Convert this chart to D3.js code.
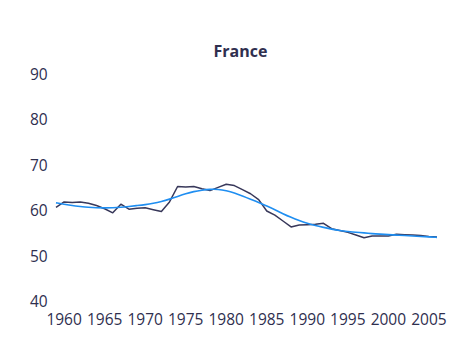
<!DOCTYPE html>
<html><head><meta charset="utf-8">
<script src="https://cdn.jsdelivr.net/npm/d3@7"></script>
<style>body{margin:0;background:#fff}svg{display:block}text{font-family:"Open Sans","Noto Sans",sans-serif}</style>
</head><body><div id="chart"></div>
<script>
const title = "France";
const years = d3.range(1959, 2007);
const actual = [60.4,61.6,61.5,61.6,61.3,60.8,60.1,59.2,61.1,60.0,60.2,60.3,59.9,59.5,61.6,65.0,64.9,65.0,64.5,64.1,64.8,65.5,65.2,64.3,63.4,62.1,59.6,58.7,57.4,56.1,56.5,56.6,56.7,56.9,55.7,55.3,54.9,54.3,53.7,54.1,54.1,54.1,54.5,54.4,54.3,54.2,54.0,53.9];
const trend = [61.4,61.1,60.8,60.6,60.4,60.3,60.3,60.3,60.4,60.6,60.8,61.0,61.3,61.7,62.2,62.8,63.4,63.9,64.2,64.4,64.4,64.1,63.6,62.9,62.2,61.5,60.7,59.9,59.0,58.2,57.5,56.9,56.4,56.0,55.6,55.3,55.1,54.9,54.8,54.6,54.5,54.4,54.3,54.2,54.1,54.0,53.9,53.8];
const yTicks = [40,50,60,70,80,90];
const xTicks = [1960,1965,1970,1975,1980,1985,1990,1995,2000,2005];

const W = 450, H = 359;
const svg = d3.select("#chart").append("svg").attr("width", W).attr("height", H);
const x = d3.scaleLinear().domain([1959, 2006]).range([56, 437]);
const y = d3.scaleLinear().domain([40, 90]).range([300, 73]);
const ink = "#2f2f4f";

svg.append("text").attr("x", 240.5).attr("y", 56.5).attr("text-anchor", "middle")
  .attr("font-size", 16).attr("font-weight", "bold").attr("fill", ink).text(title);

svg.selectAll(".yt").data(yTicks).enter().append("text")
  .attr("x", 30).attr("y", d => y(d)).attr("dy", "0.45em")
  .attr("font-size", 15.5).attr("fill", ink).text(d => d);

svg.selectAll(".xt").data(xTicks).enter().append("text")
  .attr("x", d => x(d)).attr("y", 319.5).attr("dy", "0.35em").attr("text-anchor", "middle")
  .attr("font-size", 15.5).attr("fill", ink).text(d => d);

const line = (vals, curve) => d3.line().x((d, i) => x(years[i])).y(d => y(d)).curve(curve)(vals);

svg.append("path").attr("d", line(actual, d3.curveLinear)).attr("fill", "none")
  .attr("stroke", "#38385a").attr("stroke-width", 1.5).attr("stroke-linejoin", "round");
svg.append("path").attr("d", line(trend, d3.curveBasis)).attr("fill", "none")
  .attr("stroke", "#1f8ef1").attr("stroke-width", 1.6);
</script></body></html>
